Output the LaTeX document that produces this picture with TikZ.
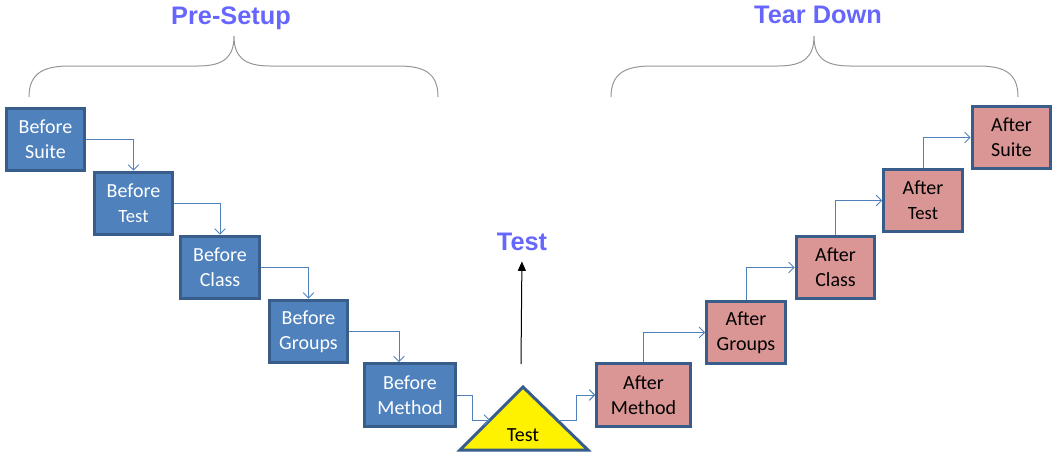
\documentclass[tikz,border=0pt]{standalone}
\usepackage{fontspec}
\setmainfont{Carlito}
\newfontfamily\arialfont{Liberation Sans}
\usepackage{tikz}
\usetikzlibrary{arrows.meta}
\definecolor{boxblue}{RGB}{79,129,189}
\definecolor{boxedge}{RGB}{56,93,138}
\definecolor{boxrose}{RGB}{217,150,148}
\definecolor{phaseblue}{RGB}{102,102,255}
\definecolor{bracegray}{RGB}{150,150,150}
\definecolor{linkblue}{RGB}{79,129,189}
\tikzset{
  stagebox/.style={draw=boxedge,line width=2.25pt,minimum width=59pt,minimum height=47pt,
    align=center,inner sep=0.75pt,font=\fontsize{15}{19}\selectfont},
  beforebox/.style={stagebox,fill=boxblue,text=white},
  afterbox/.style={stagebox,fill=boxrose,text=black},
  link/.style={draw=linkblue,line width=0.75pt,-{Straight Barb[length=4pt,width=8pt]}},
  phase/.style={text=phaseblue,font=\arialfont\bfseries\fontsize{19}{22}\selectfont,inner sep=0.75pt},
  brace/.style={draw=bracegray,line width=0.75pt}
}
\newcommand{\smalltest}{{\fontsize{14}{19}\selectfont Test}}
\begin{document}
\begin{tikzpicture}[x=0.75pt,y=0.75pt,yscale=-1,xscale=1]
\useasboundingbox (0,0) rectangle (1056,458);

% Braces
\draw[brace] (29,97) .. controls (29,72) and (45,66) .. (70,66) -- (198,66) .. controls (225,66) and (234,56) .. (234,36)
  .. controls (234,56) and (243,66) .. (270,66) -- (398,66) .. controls (423,66) and (438,72) .. (438,97);
\draw[brace] (611,97) .. controls (611,72) and (627,66) .. (652,66) -- (778,66) .. controls (805,66) and (814,56) .. (814,36)
  .. controls (814,56) and (823,66) .. (850,66) -- (978,66) .. controls (1003,66) and (1018,72) .. (1018,97);

% Text Node
\node[phase] (presetup) at (231,18) {Pre-Setup};
% Text Node
\node[phase] (teardown) at (818,15) {Tear Down};

% Before boxes
\node[beforebox] (bsuite) at (45.5,139.5) {Before\\Suite};
\node[beforebox] (btest) at (133.5,203.5) {Before\\\smalltest};
\node[beforebox] (bclass) at (220,267.5) {Before\\Class};
\node[beforebox] (bgroups) at (308.5,331.5) {Before\\Groups};
\node[beforebox,minimum width=68pt] (bmethod) at (410,395) {Before\\Method};

% After boxes
\node[afterbox,minimum width=70pt] (amethod) at (643.5,395) {After\\Method};
\node[afterbox] (agroups) at (746,332.5) {After\\Groups};
\node[afterbox] (aclass) at (835.5,267.5) {After\\Class};
\node[afterbox] (atest) at (923,200.5) {After\\\smalltest};
\node[afterbox] (asuite) at (1011.5,137.5) {After\\Suite};

% Test triangle
\draw[fill=yellow,draw=boxedge,line width=2.25pt,line join=miter] (460,450) -- (523,387) -- (588,450) -- cycle;
\node[font=\fontsize{15}{19}\selectfont,inner sep=0.75pt] (test) at (523,435) {Test};
\coordinate (tleft) at (490,420);
\coordinate (tright) at (558,420);
\coordinate (tup) at (521,364);
\node[phase] (testlbl) at (522,242) {Test};

% Connectors
\draw[link] (bsuite.east) -| (btest.north);
\draw[link] (btest.east) -| (bclass.north);
\draw[link] (bclass.east) -| (bgroups.north);
\draw[link] (bgroups.east) -| ([xshift=-8.25pt]bmethod.north);
\draw[link] (bmethod.east) -- ++(16,0) |- (tleft);
\draw[link] (tright) -- ++(18,0) |- (amethod.west);
\draw[link] (amethod.north) |- (agroups.west);
\draw[link] (agroups.north) |- (aclass.west);
\draw[link] (aclass.north) |- (atest.west);
\draw[link] (atest.north) |- (asuite.west);
\draw[line width=0.75pt,-{Triangle[length=7pt,width=6pt]},shorten >=7pt] (tup) -- (testlbl.south);

\end{tikzpicture}
\end{document}
